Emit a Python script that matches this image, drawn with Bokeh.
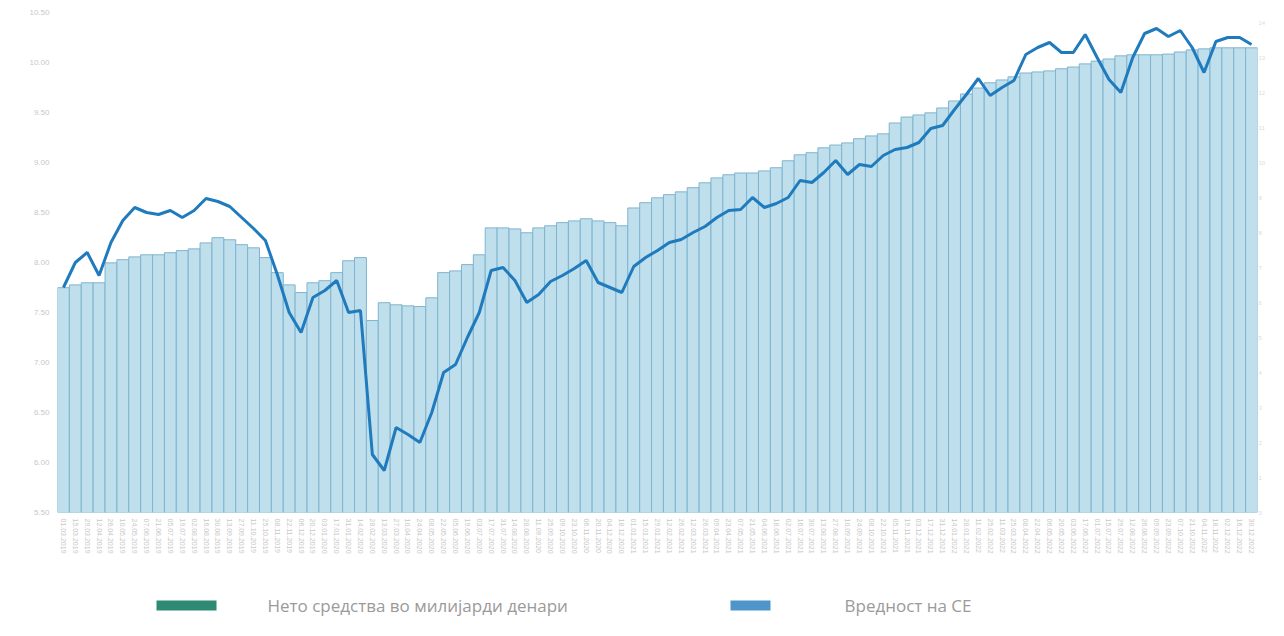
from bokeh.plotting import figure
from bokeh.layouts import column
from bokeh.models import (Range1d, LinearAxis, FixedTicker, NumeralTickFormatter,
                          ColumnDataSource, BoxAnnotation, Label)
from bokeh.embed import file_html
from bokeh.resources import INLINE

dates = [
    "01.03.2019", "15.03.2019", "29.03.2019", "12.04.2019", "26.04.2019", "10.05.2019", "24.05.2019",
    "07.06.2019", "21.06.2019", "05.07.2019", "19.07.2019", "02.08.2019", "16.08.2019", "30.08.2019",
    "13.09.2019", "27.09.2019", "11.10.2019", "25.10.2019", "08.11.2019", "22.11.2019", "06.12.2019",
    "20.12.2019", "03.01.2020", "17.01.2020", "31.01.2020", "14.02.2020", "28.02.2020", "13.03.2020",
    "27.03.2020", "10.04.2020", "24.04.2020", "08.05.2020", "22.05.2020", "05.06.2020", "19.06.2020",
    "03.07.2020", "17.07.2020", "31.07.2020", "14.08.2020", "28.08.2020", "11.09.2020", "25.09.2020",
    "09.10.2020", "23.10.2020", "06.11.2020", "20.11.2020", "04.12.2020", "18.12.2020", "01.01.2021",
    "15.01.2021", "29.01.2021", "12.02.2021", "26.02.2021", "12.03.2021", "26.03.2021", "09.04.2021",
    "23.04.2021", "07.05.2021", "21.05.2021", "04.06.2021", "18.06.2021", "02.07.2021", "16.07.2021",
    "30.07.2021", "13.08.2021", "27.08.2021", "10.09.2021", "24.09.2021", "08.10.2021", "22.10.2021",
    "05.11.2021", "19.11.2021", "03.12.2021", "17.12.2021", "31.12.2021", "14.01.2022", "28.01.2022",
    "11.02.2022", "25.02.2022", "11.03.2022", "25.03.2022", "08.04.2022", "22.04.2022", "06.05.2022",
    "20.05.2022", "03.06.2022", "17.06.2022", "01.07.2022", "15.07.2022", "29.07.2022", "12.08.2022",
    "26.08.2022", "09.09.2022", "23.09.2022", "07.10.2022", "21.10.2022", "04.11.2022", "18.11.2022",
    "02.12.2022", "16.12.2022", "30.12.2022",
]

# Вредност на СЕ (line, left axis)
unit_value = [
    7.75, 8.00, 8.10, 7.87, 8.20, 8.42, 8.55, 8.50, 8.48, 8.52,
    8.45, 8.52, 8.64, 8.61, 8.56, 8.45, 8.34, 8.22, 7.88, 7.50,
    7.30, 7.65, 7.72, 7.82, 7.50, 7.52, 6.08, 5.92, 6.35, 6.28,
    6.20, 6.50, 6.90, 6.98, 7.25, 7.50, 7.92, 7.95, 7.82, 7.60,
    7.68, 7.81, 7.87, 7.94, 8.02, 7.80, 7.75, 7.70, 7.96, 8.05,
    8.12, 8.20, 8.23, 8.30, 8.36, 8.45, 8.52, 8.53, 8.65, 8.55,
    8.59, 8.65, 8.82, 8.80, 8.90, 9.02, 8.88, 8.98, 8.96, 9.07,
    9.13, 9.15, 9.20, 9.34, 9.37, 9.53, 9.68, 9.84, 9.67, 9.75,
    9.82, 10.08, 10.15, 10.20, 10.10, 10.10, 10.28, 10.05, 9.83, 9.70,
    10.05, 10.29, 10.34, 10.26, 10.32, 10.15, 9.90, 10.21, 10.25, 10.25,
    10.18,
]

# Нето средства во милијарди денари (bars, right axis)
net_assets = [
    6.43, 6.51, 6.57, 6.57, 7.14, 7.23, 7.31, 7.37, 7.37, 7.43,
    7.49, 7.54, 7.71, 7.86, 7.80, 7.66, 7.57, 7.29, 6.86, 6.51,
    6.29, 6.57, 6.63, 6.86, 7.20, 7.29, 5.49, 6.00, 5.94, 5.91,
    5.89, 6.14, 6.86, 6.91, 7.09, 7.37, 8.14, 8.14, 8.11, 8.00,
    8.14, 8.20, 8.29, 8.34, 8.40, 8.34, 8.29, 8.20, 8.71, 8.86,
    9.00, 9.09, 9.17, 9.29, 9.43, 9.57, 9.66, 9.71, 9.71, 9.77,
    9.86, 10.06, 10.23, 10.29, 10.43, 10.51, 10.57, 10.69, 10.77, 10.83,
    11.14, 11.31, 11.37, 11.43, 11.57, 11.77, 11.97, 12.14, 12.29, 12.37,
    12.46, 12.57, 12.60, 12.63, 12.69, 12.74, 12.83, 12.91, 12.97, 13.06,
    13.09, 13.09, 13.09, 13.11, 13.17, 13.23, 13.26, 13.29, 13.29, 13.29,
    13.29,
]

left_ticks = [5.5, 6.0, 6.5, 7.0, 7.5, 8.0, 8.5, 9.0, 9.5, 10.0, 10.5]
right_ticks = [0, 1, 2, 3, 4, 5, 6, 7, 8, 9, 10, 11, 12, 13, 14]

legend_labels = ["Нето средства во милијарди денари", "Вредност на СЕ"]
legend_colors = ["#2e8a72", "#4d95cb"]

idx = list(range(len(dates)))
src = ColumnDataSource(dict(x=idx, v=unit_value, a=net_assets, d=dates))

p = figure(width=1268, height=572, output_backend="svg", toolbar_location=None,
           x_range=Range1d(-0.5, len(dates) - 0.5), y_range=Range1d(5.5, 10.5),
           min_border_left=57, min_border_top=12, min_border_right=2, min_border_bottom=60)
p.extra_y_ranges = {"right": Range1d(0, 14.3)}
p.outline_line_color = None
p.xgrid.visible = False
p.ygrid.visible = False

lab_color = "#c8c8c8"
p.yaxis.ticker = FixedTicker(ticks=left_ticks)
p.yaxis.formatter = NumeralTickFormatter(format="0.00")
p.yaxis.axis_line_color = None
p.yaxis.major_tick_line_color = None
p.yaxis.minor_tick_line_color = None
p.yaxis.major_tick_out = 0
p.yaxis.major_tick_in = 0
p.yaxis.major_label_text_color = lab_color
p.yaxis.major_label_text_font_size = "8px"
p.yaxis.major_label_standoff = 8

ra = LinearAxis(y_range_name="right", ticker=FixedTicker(ticks=right_ticks))
ra.axis_line_color = None
ra.major_tick_line_color = None
ra.minor_tick_line_color = None
ra.major_tick_out = 0
ra.major_tick_in = 0
ra.minor_tick_out = 0
ra.major_label_text_color = "#dcdcdc"
ra.major_label_text_font_size = "6px"
ra.major_label_standoff = 1
p.add_layout(ra, "right")

p.xaxis.ticker = FixedTicker(ticks=idx)
p.xaxis.major_label_overrides = {i: d for i, d in enumerate(dates)}
p.xaxis.major_label_orientation = "vertical"
p.xaxis.major_label_text_font_size = "7px"
p.xaxis.major_label_text_color = lab_color
p.xaxis.axis_line_color = None
p.xaxis.major_tick_line_color = None
p.xaxis.minor_tick_line_color = None
p.xaxis.major_tick_out = 0
p.xaxis.major_tick_in = 0
p.xaxis.major_label_standoff = 6

p.vbar(x="x", top="a", width=1.0, bottom=0, source=src, y_range_name="right",
       fill_color="#bfdfec", line_color="#7fb4cf", line_width=1)
p.line(x="x", y="v", source=src, line_color="#1f7bbd", line_width=3)

# legend strip below the chart (screen-positioned annotations)
lg = figure(width=1268, height=48, output_backend="svg", toolbar_location=None,
            min_border=0, x_range=Range1d(0, 1), y_range=Range1d(0, 1))
lg.axis.visible = False
lg.grid.visible = False
lg.outline_line_color = None

sw_left = [99, 673]
sw_width = [60, 40]
txt_x = [210, 787]
for c, l, w, tx, lab in zip(legend_colors, sw_left, sw_width, txt_x, legend_labels):
    lg.add_layout(BoxAnnotation(left=l, right=l + w, bottom=10, top=20,
                                left_units="screen", right_units="screen",
                                bottom_units="screen", top_units="screen",
                                fill_color=c, fill_alpha=1, line_color=None))
    lg.add_layout(Label(x=tx, y=15, x_units="screen", y_units="screen", text=lab,
                        text_font="Open Sans", text_font_size="17px",
                        text_color="#9a9a9a", text_baseline="middle"))

open("out.html", "w").write(file_html(column(p, lg, spacing=0), INLINE))
